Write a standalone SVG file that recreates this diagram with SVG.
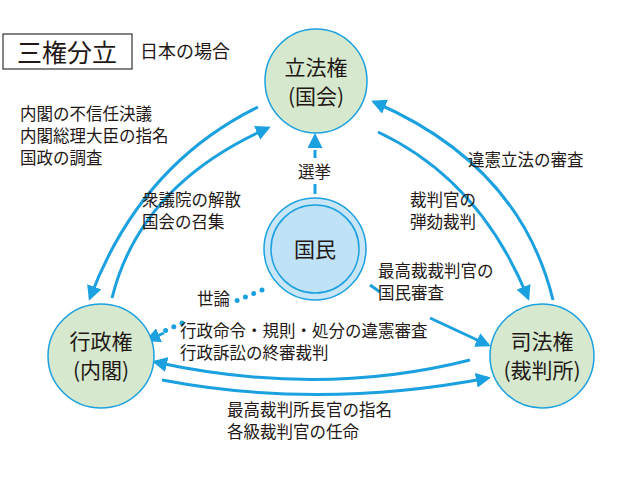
<svg xmlns="http://www.w3.org/2000/svg" width="640" height="480" viewBox="0 0 640 480">
<style>
text{font-family:"Noto Sans CJK JP","Noto Sans CJK SC",sans-serif;fill:#231815}
.l{font-size:16.5px}
.n{font-size:21px;text-anchor:middle}
.node{fill:#d6e9cf;stroke:#1ba0e0;stroke-width:1.5}
.a{fill:none;stroke:#1ba0e0;stroke-width:3;marker-end:url(#ah)}
</style>
<defs>
<marker id="ah" viewBox="0 0 10 10" refX="8" refY="5" markerWidth="5" markerHeight="5" orient="auto" markerUnits="strokeWidth"><path d="M0,0L10,5L0,10z" fill="#1ba0e0"/></marker>
</defs>
<rect width="640" height="480" fill="#fff"/>
<g id="title">
<rect x="3" y="34" width="129" height="35" fill="#fff" stroke="#333" stroke-width="1.2"/>
<text x="67" y="62" font-size="25" text-anchor="middle">三権分立</text>
<text x="140" y="58" font-size="18">日本の場合</text>
</g>
<g id="connectors">
<path class="a" d="M258,107 Q140,165 90,298"/>
<path class="a" d="M112,298 Q140,185 268,128"/>
<path class="a" d="M553,300 Q520,165 374,102"/>
<path class="a" d="M378,132 Q480,180 528,298"/>
<path class="a" d="M315,158 V136" stroke-dasharray="8,5"/>
<path d="M315,184 V194" fill="none" stroke="#1ba0e0" stroke-width="3"/>
<path d="M370,285 L380,292" fill="none" stroke="#1ba0e0" stroke-width="3"/>
<path class="a" d="M430,318 L488,345"/>
<path d="M262,290 L236,301 M182,323 L160,333" fill="none" stroke="#1ba0e0" stroke-width="5" stroke-dasharray="0,9" stroke-linecap="round"/>
<path d="M164,333 L148,340" fill="none" stroke="#1ba0e0" stroke-width="3" marker-end="url(#ah)"/>
<path class="a" d="M470,360 Q320,398 155,362"/>
<path class="a" d="M162,380 Q320,410 488,378"/>
</g>
<g id="rippou"><ellipse class="node" cx="316" cy="81" rx="51" ry="52"/>
<text class="n" x="316" y="75">立法権</text><text class="n" x="316" y="104">(国会)</text></g>
<g id="kokumin"><circle cx="315" cy="249" r="51" fill="#c8e6f8" stroke="#1ba0e0" stroke-width="1.5"/>
<circle cx="315" cy="249" r="44" fill="#bfe2f7" stroke="#1ba0e0" stroke-width="1.5"/>
<text class="n" x="315" y="257">国民</text></g>
<g id="gyousei"><ellipse class="node" cx="101" cy="356" rx="53" ry="52"/>
<text class="n" x="101" y="349">行政権</text><text class="n" x="101" y="378">(内閣)</text></g>
<g id="shihou"><ellipse class="node" cx="542" cy="356" rx="52" ry="52"/>
<text class="n" x="542" y="349">司法権</text><text class="n" x="542" y="378">(裁判所)</text></g>
<g id="labels">
<text class="l" x="20" y="120">内閣の不信任決議</text>
<text class="l" x="20" y="142">内閣総理大臣の指名</text>
<text class="l" x="20" y="164">国政の調査</text>
<text class="l" x="142" y="206">衆議院の解散</text>
<text class="l" x="142" y="228">国会の召集</text>
<text class="l" x="468" y="166">違憲立法の審査</text>
<text class="l" x="410" y="206">裁判官の</text>
<text class="l" x="410" y="228">弾劾裁判</text>
<text class="l" x="298" y="178">選挙</text>
<text class="l" x="378" y="277">最高裁裁判官の</text>
<text class="l" x="378" y="299">国民審査</text>
<text class="l" x="197" y="305">世論</text>
<text class="l" x="180" y="337">行政命令・規則・処分の違憲審査</text>
<text class="l" x="180" y="359">行政訴訟の終審裁判</text>
<text class="l" x="227" y="416">最高裁判所長官の指名</text>
<text class="l" x="227" y="438">各級裁判官の任命</text>
</g>
</svg>
